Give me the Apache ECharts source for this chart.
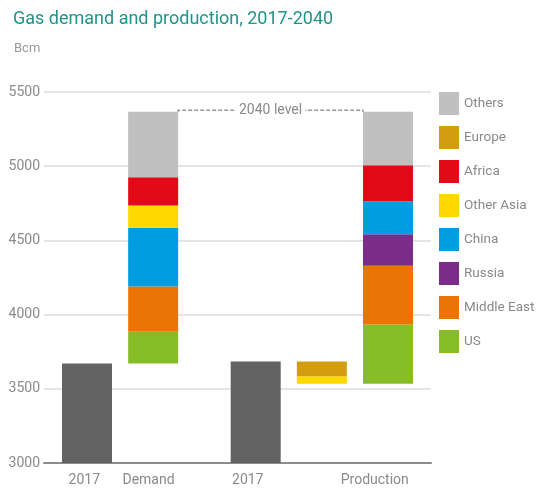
<!DOCTYPE html>
<html>
<head>
<meta charset="utf-8">
<title>Gas demand and production, 2017-2040</title>
<script src="https://cdn.jsdelivr.net/npm/echarts@6/dist/echarts.min.js"></script>
<style>
  html, body { margin: 0; padding: 0; background: #fff; }
  #chart { width: 539px; height: 488px; }
</style>
</head>
<body>
<div id="chart"></div>
<script>
// ---- data (Bcm) ----
const categories = ['2017', 'Demand', '2017', '', 'Production'];
const regions = ['US', 'Middle East', 'Russia', 'China', 'Other Asia', 'Europe', 'Africa', 'Others'];
const legendOrder = ['Others', 'Europe', 'Africa', 'Other Asia', 'China', 'Russia', 'Middle East', 'US'];
const level2017Demand = 3670;
const level2017Production = 3684;
const demandGrowth =     [215, 305,   0, 395, 150,    0, 190, 442];
const productionDecline = [  0,   0,   0,   0, -50, -100,   0,   0];
const productionGrowth = [400, 395, 213, 222,   0,    0, 243, 360];
const yTicks = [3000, 3500, 4000, 4500, 5000, 5500];

// ---- layout / style ----
const slotX = [0, 1, 2.55, 3.55, 4.55];      // horizontal slot of each category
const labelX = [-0.04, 0.93, 2.43, 4.35];     // where the category captions sit
const labelText = ['2017', 'Demand', '2017', 'Production'];
const BAR_W = 50;
const colors = {
  'US': '#86bc25',
  'Middle East': '#ec7404',
  'Russia': '#7b2c8a',
  'China': '#009ee0',
  'Other Asia': '#ffd800',
  'Europe': '#d49d0f',
  'Africa': '#e30a17',
  'Others': '#c0c0c0'
};
const FONT = 'Roboto, "Liberation Sans", sans-serif';
const GREY_TEXT = '#8a8a8a';

// ---- build segment table [x, low, high] per region ----
const segments = {};
regions.forEach(r => segments[r] = []);

let run = level2017Demand;
regions.forEach((r, i) => {
  if (demandGrowth[i] > 0) {
    segments[r].push([slotX[1], run, run + demandGrowth[i]]);
    run += demandGrowth[i];
  }
});
const demandTotal = run;

const declineTotal = productionDecline.reduce((a, b) => a + b, 0);
run = level2017Production + declineTotal;
regions.forEach((r, i) => {
  if (productionDecline[i] < 0) {
    segments[r].push([slotX[3], run, run - productionDecline[i]]);
    run -= productionDecline[i];
  }
});
run = level2017Production + declineTotal;
regions.forEach((r, i) => {
  if (productionGrowth[i] > 0) {
    segments[r].push([slotX[4], run, run + productionGrowth[i]]);
    run += productionGrowth[i];
  }
});
const productionTotal = run;

function renderBar(params, api) {
  const x = api.value(0);
  const top = api.coord([x, api.value(2)]);
  const bottom = api.coord([x, api.value(1)]);
  return {
    type: 'rect',
    shape: { x: top[0] - BAR_W / 2, y: top[1], width: BAR_W, height: bottom[1] - top[1] },
    style: api.style()
  };
}

const series = [];
series.push({
  name: '2017',
  type: 'custom',
  renderItem: renderBar,
  clip: true,
  itemStyle: { color: '#636363' },
  data: [[slotX[0], yTicks[0], level2017Demand], [slotX[2], yTicks[0], level2017Production]],
  z: 2
});
regions.forEach(r => {
  series.push({
    name: r,
    type: 'custom',
    renderItem: renderBar,
    clip: true,
    itemStyle: { color: colors[r] },
    data: segments[r],
    z: 2
  });
});

// dashed "2040 level" connector between the two end totals
series.push({
  name: 'level',
  type: 'custom',
  silent: true,
  z: 3,
  data: [[slotX[1], slotX[4], Math.max(demandTotal, productionTotal)]],
  renderItem: function (params, api) {
    const a = api.coord([api.value(0), api.value(2)]);
    const b = api.coord([api.value(1), api.value(2)]);
    const x1 = a[0] + BAR_W / 2, x2 = b[0] - BAR_W / 2, y = a[1] - 1.5;
    return {
      type: 'group',
      children: [
        {
          type: 'polyline',
          shape: { points: [[x1, y + 2], [x1, y], [x2, y], [x2, y + 2]] },
          style: { stroke: '#9a9a9a', lineWidth: 1.5, lineDash: [4, 2], fill: null }
        },
        {
          type: 'text',
          style: {
            x: (x1 + x2) / 2, y: y,
            text: '2040 level',
            align: 'center', verticalAlign: 'middle',
            font: '14px ' + FONT,
            fill: GREY_TEXT,
            backgroundColor: '#fff',
            padding: [0, 3]
          }
        }
      ]
    };
  }
});

const chart = echarts.init(document.getElementById('chart'), null, { renderer: 'canvas' });
chart.setOption({
  animation: false,
  backgroundColor: '#fff',
  title: [
    {
      text: 'Gas demand and production, 2017-2040',
      left: 8, top: 5,
      textStyle: { fontFamily: FONT, fontSize: 18, fontWeight: 'normal', color: '#1f9488' }
    },
    {
      text: 'Bcm',
      left: 9, top: 37,
      textStyle: { fontFamily: FONT, fontSize: 13, fontWeight: 'normal', color: '#999' }
    }
  ],
  legend: {
    data: legendOrder,
    orient: 'vertical',
    left: 439, top: 92,
    padding: 0,
    itemWidth: 20, itemHeight: 23, itemGap: 11,
    icon: 'rect',
    textStyle: { fontFamily: FONT, fontSize: 13.5, color: GREY_TEXT },
    selectedMode: false
  },
  grid: { left: 44, top: 92, width: 387, height: 371, containLabel: false },
  xAxis: {
    type: 'value',
    min: -0.65, max: 5.2,
    axisLine: { show: true, lineStyle: { color: '#8c8c8c', width: 2 } },
    axisTick: { show: false },
    splitLine: { show: false },
    axisLabel: {
      customValues: labelX,
      margin: 10,
      fontFamily: FONT, fontSize: 14, color: GREY_TEXT,
      formatter: v => {
        const i = labelX.findIndex(p => Math.abs(p - v) < 1e-6);
        return i >= 0 ? labelText[i] : '';
      }
    }
  },
  yAxis: {
    type: 'value',
    min: yTicks[0], max: yTicks[yTicks.length - 1], interval: 500,
    axisLine: { show: false },
    axisTick: { show: false },
    axisLabel: { margin: 4, fontFamily: FONT, fontSize: 14, color: GREY_TEXT, formatter: v => String(v) },
    splitLine: { lineStyle: { color: '#dcdcdc', width: 1.5 } }
  },
  series: series
});
</script>
</body>
</html>
